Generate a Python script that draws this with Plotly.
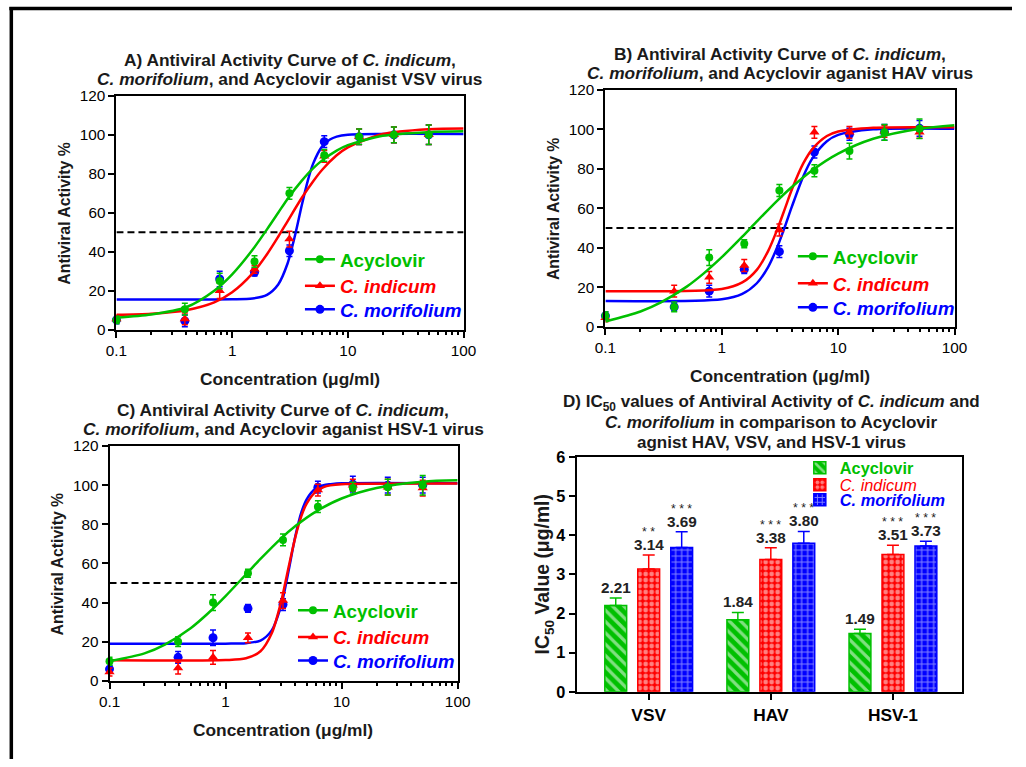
import plotly.graph_objects as go

F = "Liberation Sans, Arial, sans-serif"
GREEN = "#00c000"
RED = "#ff0000"
BLUE = "#0000ff"

# ---------------- data: measured points ----------------
conc = [0.1, 0.39, 0.78, 1.56, 3.125, 6.25, 12.5, 25, 50]

A_acy_pts = [5, 10.5, 25, 35, 70, 89.5, 99, 100, 100]
A_acy_err = [2, 3, 4, 3, 3, 3, 4, 4, 5]
A_ind_pts = [5.5, 5.5, 20, 31, 46.5, 89, 99, 100, 100]
A_ind_err = [2, 3, 4, 2, 4, 3, 4, 4, 5]
A_mor_pts = [5, 4.5, 26, 29.5, 40.5, 96.5, 99, 100, 100]
A_mor_err = [2, 3, 4, 2, 3, 3, 4, 4, 5]

B_acy_pts = [5.5, 10, 35, 42, 69, 79, 89, 98.5, 100.3]
B_acy_err = [2, 2.5, 4, 2, 3, 3, 4, 4, 5]
B_ind_pts = [4.5, 18, 25, 31, 49, 98.5, 98.5, 99, 98.5]
B_ind_err = [2, 3, 3, 3, 3, 3, 3, 3, 3]
B_mor_pts = [5.5, 10, 18, 29, 38, 88.5, 97.5, 98.5, 100.5]
B_mor_err = [2, 2, 3, 2, 3, 3, 3, 4, 4]

C_acy_pts = [10, 20, 40, 55, 72, 89, 98.5, 99, 100]
C_acy_err = [2, 2.5, 4, 2, 3, 3, 3, 4, 5]
C_ind_pts = [4.5, 6.5, 12, 22, 41, 97.5, 100, 99, 98.5]
C_ind_err = [2, 3, 3.5, 2.5, 4, 3, 3, 4, 4]
C_mor_pts = [6, 12, 22, 37, 39, 99, 100.5, 100, 100]
C_mor_err = [2, 3, 4, 2, 3, 3, 4, 4, 4]

# ---------------- data: fitted curves ----------------
A_acy_cx = [0.1, 0.2, 0.4, 0.7, 1, 1.5, 2, 2.5, 3, 4, 5, 6, 8, 10, 20, 50, 100]
A_acy_cy = [6.2, 7.8, 11.5, 20, 28.4, 41, 51.5, 60, 67, 76.5, 82.8, 86.9, 91.9, 94.7, 99.5, 101.4, 101.8]
A_ind_cx = [0.1, 0.2, 0.4, 0.7, 1, 1.5, 2, 2.5, 3, 4, 5, 6, 8, 10, 20, 50, 100]
A_ind_cy = [7.7, 8.2, 10, 14, 19.2, 28.9, 38.7, 47.7, 55.5, 67.7, 76.1, 82.1, 89.5, 93.6, 100.4, 102.9, 103.3]
A_mor_cx = [0.1, 0.5, 1, 1.5, 2, 2.5, 3, 3.5, 4, 4.5, 5, 6, 7, 8, 10, 20, 100]
A_mor_cy = [15.5, 15.5, 15.6, 16, 17.9, 23.2, 33.7, 48.6, 64, 76.4, 85.1, 94.1, 97.6, 99.1, 100.1, 100.5, 100.5]

B_acy_cx = [0.1, 0.2, 0.3, 0.5, 0.7, 1, 1.5, 2, 3, 4, 6, 10, 20, 50, 100]
B_acy_cy = [2.6, 7.7, 12.3, 20.3, 27, 35.2, 45.6, 53.3, 63.9, 70.8, 79.3, 87.7, 95.2, 100.3, 102.1]
B_ind_cx = [0.1, 1, 1.5, 2, 2.5, 3, 3.5, 4, 5, 6, 8, 10, 20, 100]
B_ind_cy = [18, 19.1, 22.4, 28.8, 38.3, 49.3, 60.1, 69.5, 82.6, 90, 96.6, 98.9, 100.8, 101]
B_mor_cx = [0.1, 1, 1.5, 2, 2.5, 3, 3.5, 4, 5, 6, 8, 10, 20, 100]
B_mor_cy = [13, 13.9, 16.6, 22, 30.2, 40.4, 51, 60.8, 76, 85.3, 94, 97.2, 100, 100.3]

C_acy_cx = [0.1, 0.2, 0.3, 0.5, 0.7, 1, 1.5, 2, 3, 4, 6, 10, 20, 50, 100]
C_acy_cy = [10, 14, 18.5, 26.9, 34.3, 43.3, 54.4, 62.3, 72.7, 79.1, 86.5, 93.2, 98.6, 101.8, 102.5]
C_ind_cx = [0.1, 1, 1.5, 2, 2.5, 3, 3.25, 3.5, 4, 4.5, 5, 6, 7, 8, 10, 100]
C_ind_cy = [10.5, 10.6, 11.5, 15.1, 24.3, 40, 49.3, 58.3, 73.6, 84.2, 90.6, 96.7, 99, 99.9, 100.5, 100.8]
C_mor_cx = [0.1, 1, 1.5, 2, 2.5, 3, 3.25, 3.5, 4, 4.5, 5, 6, 7, 8, 10, 100]
C_mor_cy = [19, 19, 19.25, 20.6, 25.8, 38.1, 46.9, 56.5, 74.1, 86.1, 92.8, 98.4, 100, 100.5, 101, 101]

half_x = [0.1, 100]
half_y = [50, 50]

# ---------------- data: IC50 bars ----------------
cats = ["VSV", "HAV", "HSV-1"]
ic50_acy = [2.21, 1.84, 1.49]
ic50_acy_err = [0.19, 0.19, 0.11]
ic50_ind = [3.14, 3.38, 3.51]
ic50_ind_err = [0.36, 0.30, 0.24]
ic50_mor = [3.69, 3.80, 3.73]
ic50_mor_err = [0.40, 0.30, 0.12]
stars_ind = ["* *", "* * *", "* * *"]
stars_mor = ["* * *", "* * *", "* * *"]

# ---------------- page geometry (calibrated to the photographed page) ----------------
PAGE_M = 8
SX, SY = 1026 / 1042, 767 / 788
OX, OY = 0.8, 1.6
W, H = 1025, 768
FS = 1.02
def px(p):
    return ((p - OX) / SX - PAGE_M) / W
def py(p):
    return 1 - ((p - OY) / SY - PAGE_M) / H
def fs(s):
    return s * FS

fig = go.Figure()

names = {
    "acy": "<b><span style='color:%s'>Acyclovir</span></b>" % GREEN,
    "ind": "<b><i><span style='color:%s'>C. indicum</span></i></b>" % RED,
    "mor": "<b><i><span style='color:%s'>C. morifolium</span></i></b>" % BLUE,
}
colors = {"acy": GREEN, "ind": RED, "mor": BLUE}
symbols = {"acy": "circle", "ind": "triangle-up", "mor": "circle"}
msize = {"acy": 8, "ind": 9, "mor": 9}

panels = [
    ("x", "y", (300, [259, 285.5, 309]), {
        "acy": (A_acy_pts, A_acy_err, A_acy_cx, A_acy_cy),
        "ind": (A_ind_pts, A_ind_err, A_ind_cx, A_ind_cy),
        "mor": (A_mor_pts, A_mor_err, A_mor_cx, A_mor_cy)}),
    ("x2", "y2", (797, [256, 283, 307]), {
        "acy": (B_acy_pts, B_acy_err, B_acy_cx, B_acy_cy),
        "ind": (B_ind_pts, B_ind_err, B_ind_cx, B_ind_cy),
        "mor": (B_mor_pts, B_mor_err, B_mor_cx, B_mor_cy)}),
    ("x3", "y3", (293, [609, 635.5, 659]), {
        "acy": (C_acy_pts, C_acy_err, C_acy_cx, C_acy_cy),
        "ind": (C_ind_pts, C_ind_err, C_ind_cx, C_ind_cy),
        "mor": (C_mor_pts, C_mor_err, C_mor_cx, C_mor_cy)}),
]

legend_defs = {}
def leg(xp, yp, size):
    return dict(x=px(xp), y=py(yp), xanchor="left", yanchor="middle",
                bgcolor="rgba(0,0,0,0)", borderwidth=0,
                font=dict(size=fs(size), family=F), itemwidth=30, tracegroupgap=0,
                traceorder="normal")

lg_n = 1
for xa, ya, (lx, rows), d in panels:
    fig.add_trace(go.Scatter(x=half_x, y=half_y, mode="lines", xaxis=xa, yaxis=ya,
                             line=dict(color="black", width=2, dash="7px,4px"),
                             showlegend=False, hoverinfo="skip"))
    for key in ["mor", "ind", "acy"]:
        pts, err, cx, cy = d[key]
        c = colors[key]
        fig.add_trace(go.Scatter(x=cx, y=cy, mode="lines", xaxis=xa, yaxis=ya,
                                 line=dict(color=c, width=2.5, shape="spline", smoothing=0.8),
                                 showlegend=False))
        fig.add_trace(go.Scatter(x=conc, y=pts, mode="markers", xaxis=xa, yaxis=ya,
                                 marker=dict(color=c, size=msize[key], symbol=symbols[key]),
                                 error_y=dict(type="data", array=err, color=c, thickness=1.5, width=3),
                                 cliponaxis=False, showlegend=False))
    for k, key in enumerate(["acy", "ind", "mor"]):
        c = colors[key]
        lname = "legend" if lg_n == 1 else "legend%d" % lg_n
        legend_defs[lname] = leg(lx, rows[k], 18.5)
        lg_n += 1
        fig.add_trace(go.Scatter(x=[None], y=[None], mode="lines+markers", xaxis=xa, yaxis=ya,
                                 name=names[key], legend=lname,
                                 line=dict(color=c, width=2.5),
                                 marker=dict(color=c, size=msize[key], symbol=symbols[key])))

# ---------------- bar panel ----------------
offsets = [-0.27, 0.0, 0.27]
bar_w = 0.179
bar_rows = [467, 484, 499]
bar_sets = [
    ("acy", ic50_acy, ic50_acy_err, dict(shape="\\", fgcolor="white", bgcolor=GREEN, size=8, solidity=0.4)),
    ("ind", ic50_ind, ic50_ind_err, dict(shape=".", fgcolor="white", bgcolor=RED, size=6, solidity=0.5)),
    ("mor", ic50_mor, ic50_mor_err, dict(shape="+", fgcolor="white", bgcolor=BLUE, size=6, solidity=0.35)),
]
bar_names = {
    "acy": "<b><span style='color:%s'>Acyclovir</span></b>" % GREEN,
    "ind": "<i><span style='color:%s'>C. indicum</span></i>" % RED,
    "mor": "<b><i><span style='color:%s'>C. morifolium</span></i></b>" % BLUE,
}
ann = []
for j, (key, vals, errs, pat) in enumerate(bar_sets):
    c = colors[key]
    lname = "legend%d" % lg_n
    legend_defs[lname] = leg(804, bar_rows[j], 16)
    lg_n += 1
    xs = [i + offsets[j] for i in range(len(cats))]
    fig.add_trace(go.Bar(x=xs, y=vals, width=bar_w, xaxis="x4", yaxis="y4",
                         name=bar_names[key], legend=lname,
                         marker=dict(color=c, line=dict(color=c, width=1.5), pattern=pat),
                         error_y=dict(type="data", symmetric=False, array=errs,
                                      arrayminus=[0] * len(errs), color=c, thickness=1.5, width=6)))
    for i in range(len(cats)):
        top = vals[i] + errs[i]
        ann.append(dict(x=xs[i], y=top, xref="x4", yref="y4", text="<b>%.2f</b>" % vals[i],
                        showarrow=False, yanchor="bottom", yshift=0,
                        font=dict(size=fs(15), color="#222", family=F)))
        st = None
        if key == "ind":
            st = stars_ind[i]
        elif key == "mor":
            st = stars_mor[i]
        if st:
            ann.append(dict(x=xs[i], y=top, xref="x4", yref="y4", text=st,
                            showarrow=False, yanchor="bottom", yshift=14,
                            font=dict(size=fs(12), color="#222", family=F)))

# ---------------- axes ----------------
def log_x(dom, anchor):
    return dict(type="log", range=[-1, 2], domain=dom, anchor=anchor, dtick=1,
                ticks="outside", ticklen=6, tickwidth=2, tickcolor="black",
                showline=True, linewidth=2, linecolor="black", mirror=True,
                showgrid=False, zeroline=False,
                tickfont=dict(size=fs(15), color="black", family=F),
                minor=dict(dtick="D1", ticks="outside", ticklen=3.5, tickwidth=1.5,
                           tickcolor="black", showgrid=False))

def lin_y(dom, anchor):
    return dict(range=[0, 120], domain=dom, anchor=anchor, dtick=20,
                ticks="outside", ticklen=6, tickwidth=2, tickcolor="black",
                showline=True, linewidth=2, linecolor="black", mirror=True,
                showgrid=False, zeroline=False,
                tickfont=dict(size=fs(15), color="black", family=F))

fig.update_layout(
    xaxis=log_x([px(115), px(465)], "y"),
    yaxis=lin_y([py(329), py(96)], "x"),
    xaxis2=log_x([px(608), px(960)], "y2"),
    yaxis2=lin_y([py(326), py(90)], "x2"),
    xaxis3=log_x([px(108), px(459)], "y3"),
    yaxis3=lin_y([py(679), py(445)], "x3"),
    xaxis4=dict(range=[-0.59, 2.567], domain=[px(579), px(967.7)], anchor="y4",
                tickvals=[0, 1, 2], ticktext=["<b>%s</b>" % c for c in cats],
                ticks="outside", ticklen=6, tickwidth=2, tickcolor="black",
                showline=True, linewidth=2, linecolor="black", mirror=True,
                showgrid=False, zeroline=False,
                tickfont=dict(size=fs(17), color="black", family=F)),
    yaxis4=dict(range=[0, 6], domain=[py(690), py(456)], anchor="x4",
                tickvals=[0, 1, 2, 3, 4, 5, 6], ticktext=["<b>%d</b>" % v for v in range(7)],
                ticks="outside", ticklen=6, tickwidth=2, tickcolor="black",
                showline=True, linewidth=2, linecolor="black", mirror=True,
                showgrid=False, zeroline=False,
                tickfont=dict(size=fs(16), color="black", family=F)),
    barmode="overlay",
)
fig.update_layout(**legend_defs)

# ---------------- titles ----------------
def T(text, xc, yc, size=17, angle=0):
    return dict(text=text, x=px(xc), y=py(yc), xref="paper", yref="paper",
                showarrow=False, xanchor="center", yanchor="middle", textangle=angle,
                font=dict(size=fs(size), color="#1a1a1a", family=F))

ann += [
    T("<b>A) Antiviral Activity Curve of <i>C. indicum</i>,</b>", 290, 60),
    T("<b><i>C. morifolium</i>, and Acyclovir aganist VSV virus</b>", 290, 79),
    T("<b>B) Antiviral Activity Curve of <i>C. indicum</i>,</b>", 784, 54),
    T("<b><i>C. morifolium</i>, and Acyclovir aganist HAV virus</b>", 784, 73),
    T("<b>C) Antiviral Activity Curve of <i>C. indicum</i>,</b>", 283, 409),
    T("<b><i>C. morifolium</i>, and Acyclovir aganist HSV-1 virus</b>", 283, 428),
    T("<b>D) IC<sub>50</sub> values of Antiviral Activity of <i>C. indicum</i> and</b>", 775, 402, 16.7),
    T("<b><i>C. morifolium</i> in comparison to Acyclovir</b>", 775, 422, 16.7),
    T("<b>agnist HAV, VSV, and HSV-1 virus</b>", 775, 441, 16.7),
    T("<b>Concentration (μg/ml)</b>", 290, 378),
    T("<b>Concentration (μg/ml)</b>", 784, 375),
    T("<b>Concentration (μg/ml)</b>", 283, 728),
    T("<b>Antiviral Activity %</b>", 63, 212.5, 15.5, -90),
    T("<b>Antiviral Activity %</b>", 555, 208, 15.5, -90),
    T("<b>Antiviral Activity %</b>", 55, 562, 15.5, -90),
    T("<b>IC<sub>50</sub> Value (μg/ml)</b>", 546, 573, 19, -90),
]

shapes = [
    dict(type="line", xref="paper", yref="paper", x0=px(7), x1=1, y0=py(9), y1=py(9),
         line=dict(color="black", width=3.5)),
    dict(type="line", xref="paper", yref="paper", x0=px(9), x1=px(9), y0=0, y1=py(7.5),
         line=dict(color="black", width=3.5)),
]

fig.update_layout(
    width=W, height=H, margin=dict(l=0, r=0, t=0, b=0),
    paper_bgcolor="white", plot_bgcolor="white",
    annotations=ann, shapes=shapes,
    font=dict(family=F, color="black"),
)

fig.write_html("out.html")
